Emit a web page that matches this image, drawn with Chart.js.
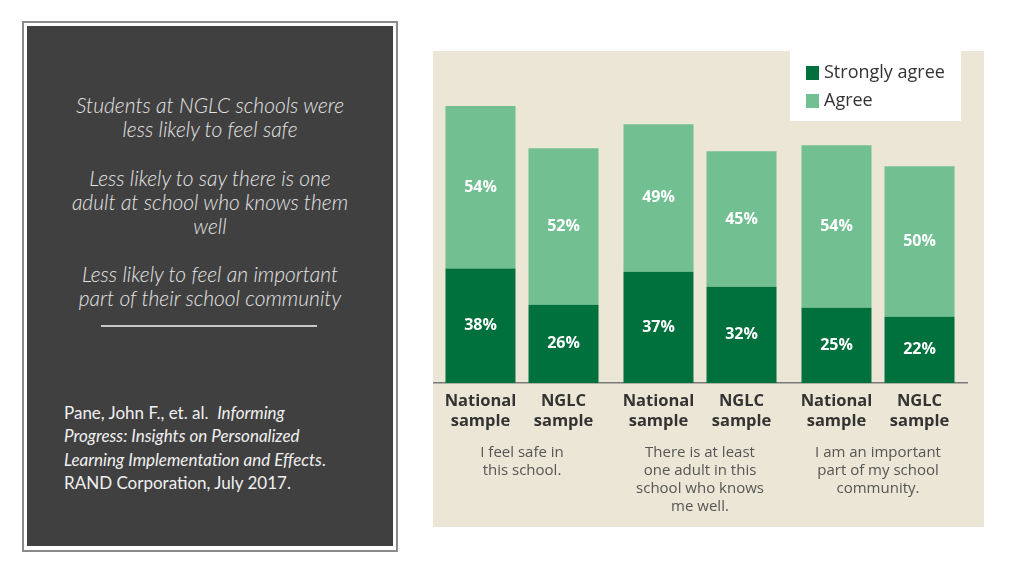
<!DOCTYPE html>
<html>
<head>
<meta charset="utf-8">
<script src="https://cdn.jsdelivr.net/npm/chart.js@4.4.1/dist/chart.umd.min.js"></script>
<style>
  html, body { margin:0; padding:0; background:#ffffff; }
  body { width:1024px; height:576px; position:relative; overflow:hidden; font-family: Lato, "Open Sans", sans-serif; }
  #outer { position:absolute; left:22px; top:21px; width:372px; height:527px; border:2px solid #8a8a8a; background:#ffffff; box-sizing:content-box; }
  #inner { position:absolute; left:27px; top:26px; width:366px; height:520px; background:#404040; }
  .head { position:absolute; left:27px; width:366px; text-align:center; color:#e4e4e4; font-style:italic; font-weight:300; font-size:21px; line-height:24px; }
  #rule { position:absolute; left:101px; top:325px; width:216px; height:2px; background:#c8c8c8; }
  #cite { position:absolute; left:64px; top:401px; width:330px; color:#f0f0f0; font-size:17px; line-height:23.3px; font-family: Lato, "Open Sans", sans-serif; white-space:nowrap; }
  #chartwrap { position:absolute; left:433px; top:51px; width:551px; height:476px; background:#ebe6d5; }
  canvas { display:block; }
</style>
</head>
<body>
<div id="outer"></div>
<div id="inner"></div>
<div class="head" style="top:93px;">Students at NGLC schools were<br>less likely to feel safe</div>
<div class="head" style="top:166px;">Less likely to say there is one<br>adult at school who knows them<br>well</div>
<div class="head" style="top:262px;">Less likely to feel an important<br>part of their school community</div>
<div id="rule"></div>
<div id="cite">Pane, John F., et. al.&nbsp; <i>Informing</i><br><i>Progress: Insights on Personalized</i><br><i>Learning Implementation and Effects</i>.<br>RAND Corporation, July 2017.</div>
<div id="chartwrap"><canvas id="c" width="551" height="476"></canvas></div>
<script>
// ---- data ----
const questions = [
  ["I feel safe in", "this school."],
  ["There is at least", "one adult in this", "school who knows", "me well."],
  ["I am an important", "part of my school", "community."]
];
const sampleLabels = [["National", "sample"], ["NGLC", "sample"]];
const seriesNames = ["Strongly agree", "Agree"];
const nationalStrongly = [38, 37, 25];
const nationalAgree    = [54, 49, 54];
const nglcStrongly     = [26, 32, 22];
const nglcAgree        = [52, 45, 50];

const DARK = "#00703c";
const LIGHT = "#72bf92";
const FONT = "'Open Sans', 'Noto Sans', sans-serif";

const valueLabels = {
  id: "valueLabels",
  afterDatasetsDraw(chart) {
    const ctx = chart.ctx;
    ctx.save();
    ctx.fillStyle = "#ffffff";
    ctx.font = "bold 16px " + FONT;
    ctx.textAlign = "center";
    ctx.textBaseline = "middle";
    chart.data.datasets.forEach((ds, di) => {
      const meta = chart.getDatasetMeta(di);
      meta.data.forEach((bar, i) => {
        const y = (bar.y + bar.base) / 2;
        ctx.fillText(ds.data[i] + "%", bar.x, y);
      });
    });
    ctx.restore();
  }
};

const sampleAxis = {
  id: "sampleAxis",
  afterDraw(chart) {
    const ctx = chart.ctx;
    const bottom = chart.chartArea.bottom;
    ctx.save();
    ctx.fillStyle = "#333333";
    ctx.font = "bold 16.5px " + FONT;
    ctx.textAlign = "center";
    ctx.textBaseline = "middle";
    [0, 2].forEach((di, s) => {
      const meta = chart.getDatasetMeta(di);
      meta.data.forEach((bar) => {
        sampleLabels[s].forEach((line, li) => {
          ctx.fillText(line, bar.x, bottom + 18 + li * 20);
        });
      });
    });
    ctx.restore();
  }
};

const boxLegend = {
  id: "boxLegend",
  afterDraw(chart) {
    const ctx = chart.ctx;
    ctx.save();
    ctx.fillStyle = "#ffffff";
    ctx.fillRect(357, 0, 171, 70);
    ctx.font = "18px " + FONT;
    ctx.textBaseline = "middle";
    ctx.textAlign = "left";
    chart.data.datasets.slice(0, 2).forEach((ds, i) => {
      const cy = 22 + i * 28;
      ctx.fillStyle = ds.backgroundColor;
      ctx.fillRect(373, cy - 7, 13, 14);
      ctx.fillStyle = "#333333";
      ctx.fillText(ds.label, 391, cy);
    });
    ctx.restore();
  }
};

new Chart(document.getElementById("c"), {
  type: "bar",
  data: {
    labels: questions,
    datasets: [
      { label: seriesNames[0], data: nationalStrongly, stack: "national", backgroundColor: DARK },
      { label: seriesNames[1], data: nationalAgree, stack: "national", backgroundColor: LIGHT },
      { label: seriesNames[0], data: nglcStrongly, stack: "nglc", backgroundColor: DARK },
      { label: seriesNames[1], data: nglcAgree, stack: "nglc", backgroundColor: LIGHT }
    ]
  },
  options: {
    responsive: false,
    animation: false,
    events: [],
    categoryPercentage: 0.933,
    barPercentage: 0.843,
    layout: { padding: { left: 0, right: 17, top: 31, bottom: 0 } },
    plugins: { legend: { display: false }, tooltip: { enabled: false } },
    scales: {
      x: {
        stacked: true,
        grid: { display: false, drawTicks: false },
        border: { display: true, color: "#7a7a7a", width: 1.5 },
        ticks: { color: "#555555", font: { family: FONT, size: 15, lineHeight: 1.2 }, padding: 61, maxRotation: 0, autoSkip: false },
        afterFit(scale) { scale.height = 144; scale.paddingLeft = 0; scale.paddingRight = 0; }
      },
      y: { stacked: true, display: false, min: 0, max: 100 }
    }
  },
  plugins: [valueLabels, sampleAxis, boxLegend]
});
</script>
</body>
</html>
